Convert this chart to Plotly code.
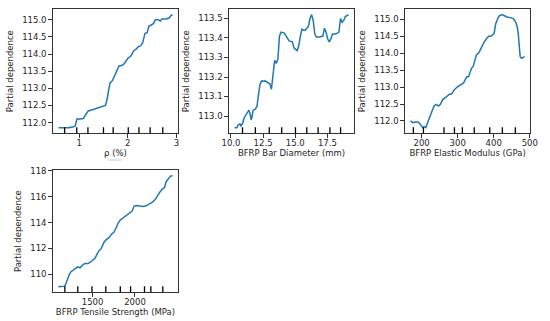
import plotly.graph_objects as go

# ---------------- data ----------------
rho_x = [0.573, 0.787, 0.887, 0.92, 0.953, 1.087, 1.12, 1.187, 1.287, 1.387, 1.487, 1.54, 1.567,
         1.60, 1.633, 1.687, 1.74, 1.787, 1.82, 1.887, 1.933, 2.0, 2.067, 2.12, 2.173, 2.207, 2.267,
         2.307, 2.353, 2.4, 2.433, 2.5, 2.533, 2.567, 2.633, 2.667, 2.7, 2.787, 2.853, 2.887, 2.92]
rho_y = [111.85, 111.85, 111.88, 111.9, 112.1, 112.12, 112.2, 112.34, 112.38, 112.43, 112.47, 112.5,
         112.63, 112.87, 113.15, 113.23, 113.4, 113.54, 113.65, 113.67, 113.73, 113.87, 113.95, 114.09,
         114.14, 114.2, 114.24, 114.33, 114.6, 114.63, 114.81, 114.86, 114.9, 115.0, 115.0, 114.96,
         115.02, 115.02, 115.05, 115.12, 115.15]
rho_deciles = [0.70, 0.95, 1.18, 1.50, 1.70, 2.01, 2.23, 2.46, 2.72]

dia_x = [10.275, 10.45, 10.575, 10.7, 10.775, 10.9, 11.025, 11.15, 11.275, 11.4, 11.475, 11.575, 11.65,
         11.725, 11.9, 12.025, 12.15, 12.275, 12.4, 12.525, 12.65, 12.775, 12.9, 13.025, 13.15, 13.275,
         13.4, 13.525, 13.65, 13.775, 13.9, 14.15, 14.275, 14.525, 14.775, 14.9, 15.15, 15.275, 15.4,
         15.525, 15.65, 15.775, 15.9, 16.025, 16.15, 16.275, 16.4, 16.525, 16.65, 16.9, 17.15, 17.275,
         17.4, 17.525, 17.65, 17.775, 17.9, 18.15, 18.4, 18.525, 18.65, 18.775, 18.9, 19.15]
dia_y = [112.94, 112.94, 112.955, 112.96, 112.95, 112.96, 112.99, 113.005, 113.02, 113.03, 113.015,
         112.98, 113.0, 113.03, 113.035, 113.05, 113.115, 113.165, 113.18, 113.178, 113.18, 113.175,
         113.17, 113.165, 113.137, 113.21, 113.285, 113.27, 113.29, 113.41, 113.43, 113.425, 113.41,
         113.385, 113.38, 113.35, 113.335, 113.36, 113.41, 113.445, 113.44, 113.44, 113.45, 113.46,
         113.5, 113.52, 113.49, 113.42, 113.405, 113.405, 113.41, 113.45, 113.43, 113.395, 113.38,
         113.395, 113.42, 113.42, 113.43, 113.5, 113.48, 113.49, 113.51, 113.52]
dia_deciles = [10.9, 11.9, 12.98, 13.95, 15.02, 15.9, 16.78, 17.7, 18.53]

mod_x = [169.2, 175.4, 182.5, 189.7, 194.1, 198.6, 203.1, 207.5, 212.0, 216.4, 220.0, 225.4, 229.8,
         234.3, 240.5, 246.8, 252.1, 258.4, 267.3, 276.2, 283.3, 289.6, 298.5, 307.4, 316.4, 320.8,
         325.3, 329.7, 334.2, 338.7, 343.1, 347.6, 352.0, 359.2, 365.4, 372.6, 378.8, 385.9, 392.2,
         396.6, 401.1, 405.6, 410.0, 414.5, 423.4, 430.5, 436.8, 445.7, 454.6, 460.9, 465.3, 468.0,
         470.7, 473.4, 476.9, 481.4, 485.8]
mod_y = [112.0, 111.95, 111.97, 111.97, 111.93, 111.85, 111.8, 111.83, 111.8, 111.95, 112.05, 112.2,
         112.34, 112.44, 112.49, 112.44, 112.49, 112.63, 112.7, 112.78, 112.8, 112.91, 113.0, 113.07,
         113.12, 113.22, 113.31, 113.3, 113.46, 113.56, 113.61, 113.78, 113.95, 114.02, 114.17, 114.31,
         114.41, 114.5, 114.5, 114.53, 114.58, 114.87, 115.02, 115.1, 115.14, 115.1, 115.07, 115.05,
         115.02, 114.92, 114.78, 114.58, 114.29, 113.9, 113.85, 113.87, 113.9]
mod_deciles = [177, 205, 262, 291, 313, 346, 389, 424, 460]

ten_x = [1098, 1144, 1174, 1189, 1208, 1227, 1246, 1277, 1303, 1326, 1353, 1379, 1410, 1447, 1478,
         1504, 1531, 1554, 1576, 1599, 1618, 1637, 1664, 1694, 1721, 1751, 1778, 1800, 1827, 1854,
         1884, 1910, 1941, 1967, 1990, 2017, 2055, 2093, 2131, 2169, 2206, 2237, 2263, 2290, 2320,
         2347, 2366, 2389, 2415, 2442]
ten_y = [109.03, 109.03, 109.08, 109.33, 109.7, 110.0, 110.2, 110.33, 110.5, 110.58, 110.5, 110.7,
         110.83, 110.83, 110.95, 111.08, 111.25, 111.58, 111.83, 111.95, 112.25, 112.5, 112.7, 112.83,
         113.08, 113.25, 113.58, 113.95, 114.2, 114.33, 114.5, 114.65, 114.75, 114.9, 115.28, 115.33,
         115.28, 115.25, 115.3, 115.45, 115.58, 115.78, 116.08, 116.33, 116.58, 116.7, 117.15, 117.4,
         117.58, 117.65]
ten_deciles = [1174, 1326, 1493, 1656, 1827, 1948, 2112, 2187, 2328]

x_titles = ["ρ (%)", "BFRP Bar Diameter (mm)", "BFRP Elastic Modulus (GPa)", "BFRP Tensile Strength (MPa)"]
y_title = "Partial dependence"
x_tickvals = [[1, 2, 3], [10.0, 12.5, 15.0, 17.5], [200, 300, 400, 500], [1500, 2000]]
x_tickfmt = ["d", ".1f", "d", "d"]
y_tickvals = [[112.0, 112.5, 113.0, 113.5, 114.0, 114.5, 115.0],
              [113.0, 113.1, 113.2, 113.3, 113.4, 113.5],
              [112.0, 112.5, 113.0, 113.5, 114.0, 114.5, 115.0],
              [110, 112, 114, 116, 118]]
y_tickfmt = [".1f", ".1f", ".1f", "d"]

series = [(rho_x, rho_y, rho_deciles), (dia_x, dia_y, dia_deciles),
          (mod_x, mod_y, mod_deciles), (ten_x, ten_y, ten_deciles)]

# ---------------- layout geometry (pixels) ----------------
W, H = 550, 321
boxes = [(47, 176, 5, 131), (228, 357, 5, 131), (409, 538, 5, 131), (47, 176, 168, 292)]

BLUE = "#1f77b4"
TXT = "#262626"
FONT = "DejaVu Sans"
FS = 8.5

fig = go.Figure()
layout = dict(width=W, height=H, margin=dict(l=0, r=0, t=0, b=0),
              paper_bgcolor="white", plot_bgcolor="white", showlegend=False,
              font=dict(family=FONT, size=FS, color=TXT))


def pad(vals):
    lo, hi = min(vals), max(vals)
    s = (hi - lo) * 0.05
    return [lo - s, hi + s]


for i, ((xs, ys, dec), (x0, x1, y0, y1)) in enumerate(zip(series, boxes)):
    n = "" if i == 0 else str(i + 1)
    fig.add_trace(go.Scatter(x=xs, y=ys, mode="lines", line=dict(color=BLUE, width=1.5),
                             xaxis="x" + n, yaxis="y" + n, hoverinfo="skip"))
    axcommon = dict(showline=True, mirror=True, linecolor="#333", linewidth=1, showgrid=False,
                    zeroline=False, ticks="outside", ticklen=3.5, tickwidth=0.8, tickcolor="#333",
                    tickfont=dict(family=FONT, size=FS, color=TXT))
    layout["xaxis" + n] = dict(axcommon, domain=[x0 / W, x1 / W], anchor="y" + n,
                               range=pad(xs), tickvals=x_tickvals[i], tickformat=x_tickfmt[i],
                               ticklabelstandoff=-2,
                               title=dict(text=x_titles[i], font=dict(family=FONT, size=FS, color=TXT),
                                          standoff=1))
    layout["yaxis" + n] = dict(axcommon, domain=[1 - y1 / H, 1 - y0 / H], anchor="x" + n,
                               range=pad(ys), tickvals=y_tickvals[i], tickformat=y_tickfmt[i],
                               title=dict(text=y_title, font=dict(family=FONT, size=FS, color=TXT),
                                          standoff=7))
    for d in dec:
        fig.add_shape(type="line", xref="x" + n, yref="y" + n + " domain", x0=d, x1=d, y0=0, y1=0.05,
                      line=dict(color="black", width=1.3))

# faint artifact line above lower-left panel
fig.add_shape(type="line", xref="paper", yref="paper", x0=104 / W, x1=118 / W,
              y0=1 - 158 / H, y1=1 - 158 / H, line=dict(color="#cccccc", width=1))

fig.update_layout(**layout)
fig.write_html("out.html", config={"displayModeBar": False},
               post_script="document.body.style.margin='0';document.body.style.padding='0';"
                           "document.documentElement.style.overflow='hidden';")
